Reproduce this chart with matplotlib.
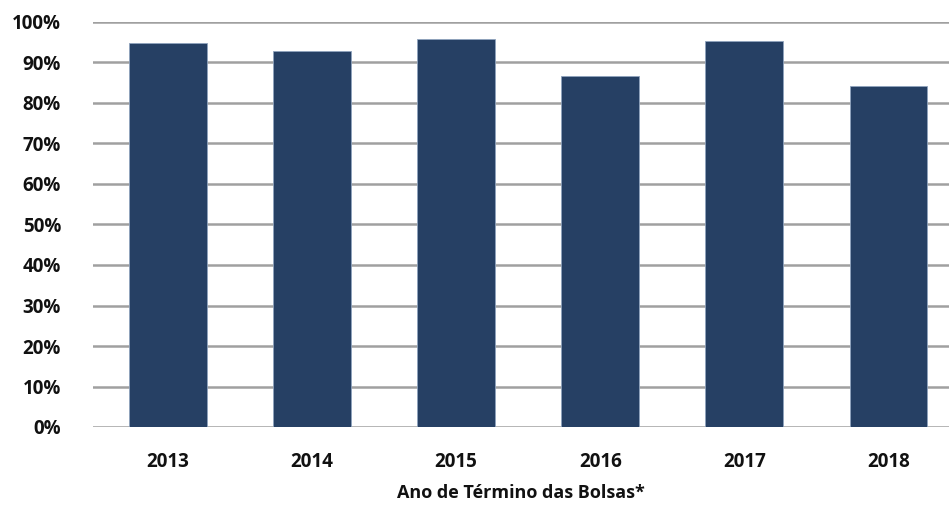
import numpy as np
import matplotlib.pyplot as plt
from matplotlib.ticker import PercentFormatter

plt.rcParams['font.family'] = ['Open Sans', 'DejaVu Sans']

anos = ['2013', '2014', '2015', '2016', '2017', '2018']
percentual = [94.9, 92.9, 95.8, 86.7, 95.4, 84.3]
yticks = np.arange(0, 101, 10)

fig = plt.figure(figsize=(9.49, 5.09), dpi=100)
ax = fig.add_axes([93/949, 1 - 427/509, (949 - 93)/949, (427 - 22)/509])

x = np.arange(len(anos))
ax.bar(x, percentual, width=0.54, color='#264064', edgecolor='#8fa3bd', linewidth=0.6, zorder=3)

ax.set_ylim(0, 100)
ax.set_xlim(-0.52, 5.42)
ax.set_yticks(yticks)
ax.yaxis.set_major_formatter(PercentFormatter(decimals=0))
ax.set_xticks(x)
ax.set_xticklabels(anos)
ax.grid(axis='y', color='#a0a0a0', linewidth=1.8, zorder=0)
for s in ax.spines.values():
    s.set_visible(False)
ax.tick_params(axis='both', length=0, labelsize=13.5, colors='#111111')
ax.tick_params(axis='y', pad=23)
ax.tick_params(axis='x', pad=18)
for lab in ax.get_xticklabels() + ax.get_yticklabels():
    lab.set_fontweight('bold')
ax.set_xlabel('Ano de Término das Bolsas*', fontsize=13, fontweight='bold', labelpad=9, color='#111111')

fig.savefig('out.png', dpi=100)
